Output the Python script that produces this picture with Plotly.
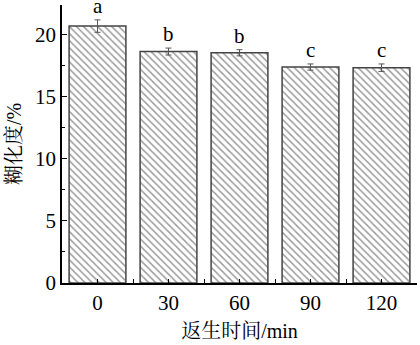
import plotly.graph_objects as go

categories = ["0", "30", "60", "90", "120"]
values = [20.7, 18.65, 18.55, 17.4, 17.35]
errors = [0.5, 0.28, 0.25, 0.25, 0.3]
letters = ["a", "b", "b", "c", "c"]

FONT = "Liberation Serif, Times New Roman, Noto Serif CJK SC, Noto Sans CJK SC, serif"

xs = list(range(len(categories)))
fig = go.Figure()
fig.add_trace(go.Bar(
    x=xs, y=values,
    width=0.8,
    marker=dict(color="white", line=dict(color="#444444", width=1.5),
                pattern=dict(shape="\\", fgcolor="#3a3a3a", bgcolor="white", size=5, solidity=0.3)),
    error_y=dict(type="data", array=errors, color="#555555", thickness=1, width=3),
))
for x, v, e, t in zip(xs, values, errors, letters):
    fig.add_annotation(x=x, y=v + e, text=t, showarrow=False, yanchor="bottom", yshift=0,
                       font=dict(family=FONT, size=21, color="black"))

fig.update_layout(
    width=420, height=345,
    margin=dict(l=62, r=3, t=5, b=62),
    plot_bgcolor="white", paper_bgcolor="white",
    showlegend=False,
    font=dict(family=FONT, size=20, color="black"),
)
fig.update_xaxes(
    range=[-0.5, 4.5], tickmode="array", tickvals=xs, ticktext=categories,
    showline=True, linecolor="black", linewidth=1.5, ticks="inside", ticklen=4, tickcolor="black",
    showgrid=False, zeroline=False,
    tickfont=dict(family=FONT, size=21),
    title=dict(text="返生时间/min", font=dict(family=FONT, size=20), standoff=10),
    minor=dict(ticks="inside", ticklen=4, tickvals=[0.5, 1.5, 2.5, 3.5], tickcolor="black"),
)
fig.update_yaxes(
    range=[0, 22.4], tickmode="array", tickvals=[0, 5, 10, 15, 20],
    showline=True, linecolor="black", linewidth=1.5, ticks="inside", ticklen=5, tickcolor="black",
    showgrid=False, zeroline=False,
    tickfont=dict(family=FONT, size=21),
    title=dict(text="糊化度/%", font=dict(family=FONT, size=20), standoff=8),
    minor=dict(ticks="inside", ticklen=3, tickvals=[2.5, 7.5, 12.5, 17.5], tickcolor="black"),
)
fig.write_html("out.html")
